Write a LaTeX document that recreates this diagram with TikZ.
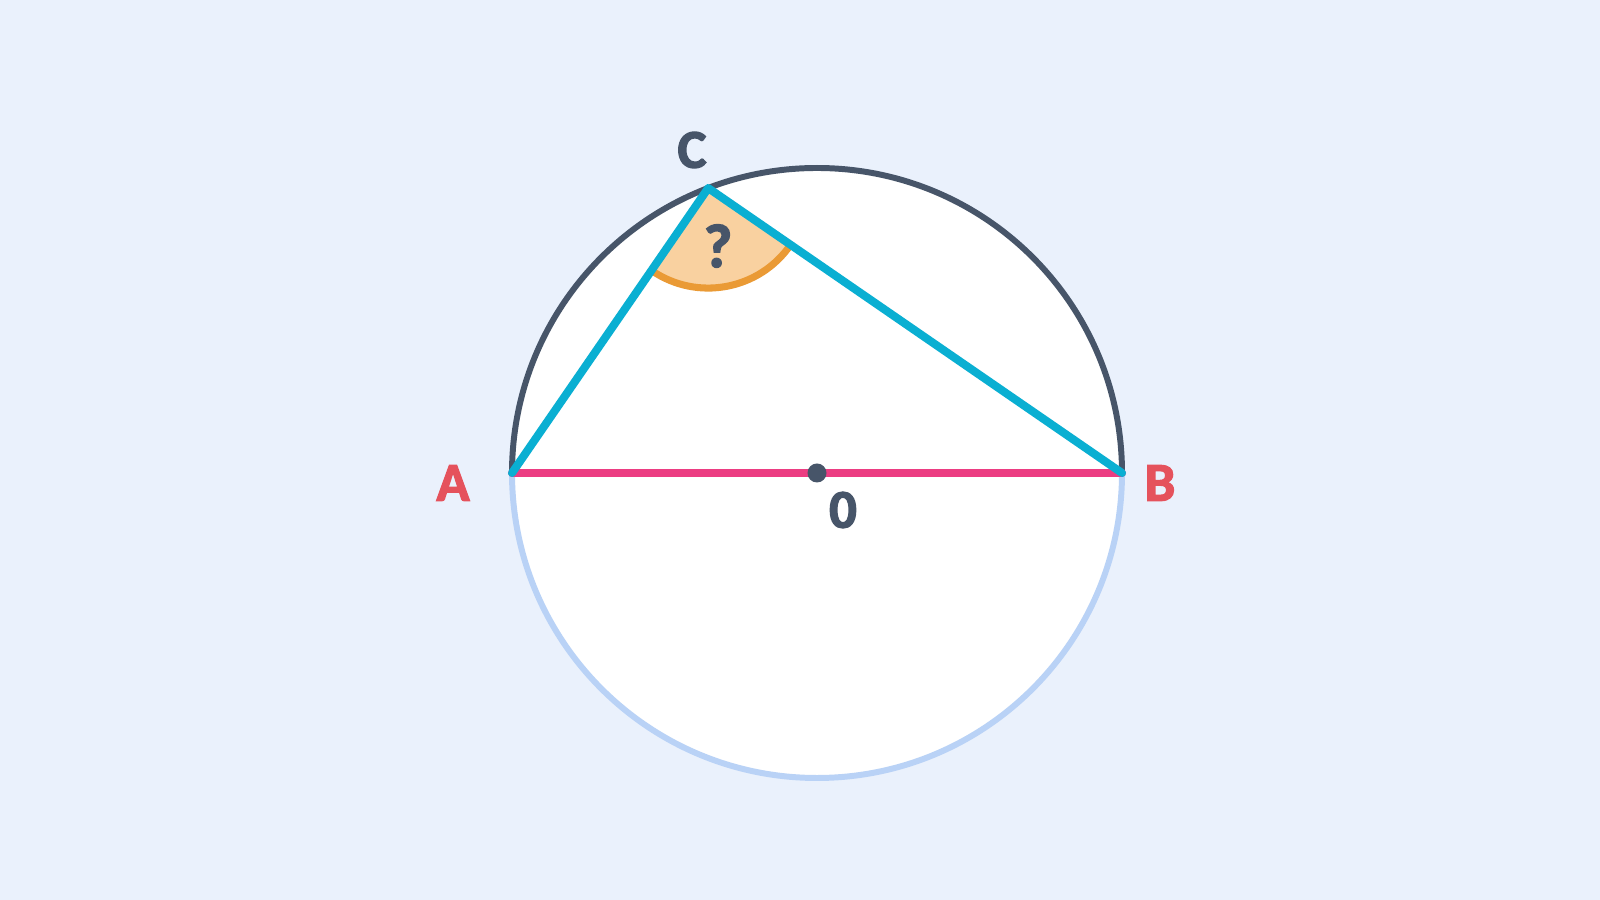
\documentclass[tikz,border=0pt]{standalone}
\usepackage{fontspec}
\newfontfamily\lblfont{Carlito}[UprightFont={* Bold}, FakeBold=2.5]
\usetikzlibrary{calc}
\definecolor{bgc}{HTML}{EAF1FC}
\definecolor{slate}{HTML}{475569}
\definecolor{lightarc}{HTML}{B9D2F6}
\definecolor{pinkc}{HTML}{EC3D82}
\definecolor{cyanc}{HTML}{0AAFD2}
\definecolor{redlbl}{HTML}{E5525C}
\definecolor{wedgefill}{HTML}{F9D1A0}
\definecolor{wedgeline}{HTML}{EA9A35}
\begin{document}
\begin{tikzpicture}[x=0.1mm,y=0.1mm,
  lbl/.style={font=\lblfont\fontsize{15.5pt}{17pt}\selectfont, inner sep=0pt},
  seg/.style={line width=2.3pt, line cap=round, line join=round}]
\fill[bgc] (0,0) rectangle (1600,900);
\useasboundingbox (0,0) rectangle (1600,900);
\coordinate (O) at (817,427);
\coordinate (A) at (512,427);
\coordinate (B) at (1122,427);
\coordinate (C) at ($(O)+(110.9:305)$);
% circle
\fill[white] (O) circle (305);
\draw[lightarc, line width=1.7pt] (B) arc[start angle=0, end angle=-180, radius=305];
\draw[slate, line width=1.7pt] (B) arc[start angle=0, end angle=180, radius=305];
% diameter
\draw[pinkc, seg] (A) -- (B);
% angle wedge
\fill[wedgefill] (C) -- ++(-124.5:100) arc[start angle=-124.5, end angle=-34.5, radius=100] -- cycle;
\draw[wedgeline, line width=2pt] ($(C)+(-124.5:100)$) arc[start angle=-124.5, end angle=-34.5, radius=100];
% triangle
\draw[cyanc, seg] (A) -- (C) -- (B);
% centre dot
\fill[slate] (O) circle (9.5);
% labels
\node[lbl, text=slate] (lc) at (692,750) {C};
\node[lbl, text=redlbl] (la) at (453,417) {A};
\node[lbl, text=redlbl] (lb) at (1160,417) {B};
\node[lbl, text=slate] (lo) at (843,390) {0};
\node[lbl, text=slate, font=\lblfont\fontsize{17.5pt}{19pt}\selectfont] (lq) at (718,654) {?};
\end{tikzpicture}
\end{document}
